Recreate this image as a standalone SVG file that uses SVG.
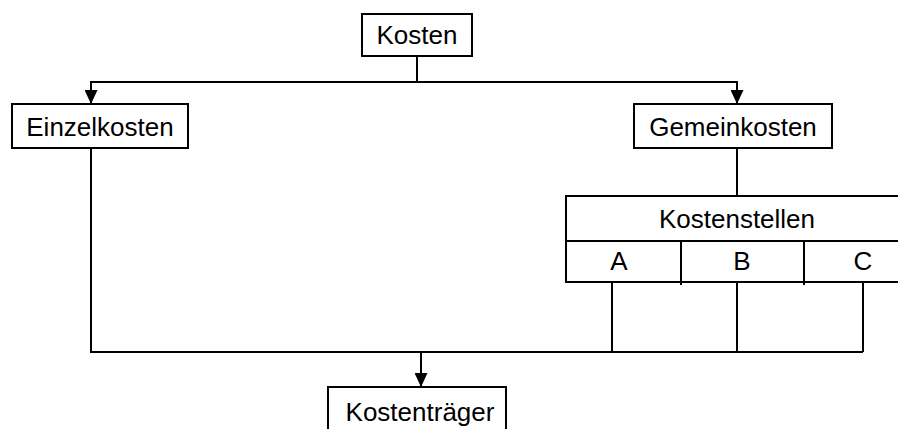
<svg xmlns="http://www.w3.org/2000/svg" width="898" height="429" viewBox="0 0 898 429">
<style>
.box{fill:#fff;stroke:#000;stroke-width:2}
.ln{fill:none;stroke:#000;stroke-width:2}
text{font-family:"Liberation Sans",Arial,sans-serif;font-size:26px;fill:#000;text-anchor:middle}
</style>
<defs>
<marker id="arr" viewBox="0 0 14 13" refX="14" refY="6.5" markerWidth="14" markerHeight="13" markerUnits="userSpaceOnUse" orient="auto">
<path d="M0,0 L14,6.5 L0,13 Z" fill="#000"/>
</marker>
</defs>
<rect width="898" height="429" fill="#fff"/>
<g id="connectors">
<path class="ln" d="M417,56 V82"/>
<path class="ln" d="M417,82 H91 V104" marker-end="url(#arr)"/>
<path class="ln" d="M417,82 H737 V104" marker-end="url(#arr)"/>
<path class="ln" d="M737,148 V196"/>
<path class="ln" d="M91,148 V352 H863"/>
<path class="ln" d="M612,282 V352"/>
<path class="ln" d="M737,282 V352"/>
<path class="ln" d="M863,282 V352"/>
<path class="ln" d="M421,352 V387" marker-end="url(#arr)"/>
</g>
<g id="kosten">
<rect class="box" x="362" y="14" width="110" height="42"/>
<text x="417" y="44">Kosten</text>
</g>
<g id="einzelkosten">
<rect class="box" x="12" y="104" width="176" height="44"/>
<text x="100" y="136">Einzelkosten</text>
</g>
<g id="gemeinkosten">
<rect class="box" x="634" y="104" width="198" height="44"/>
<text x="733" y="136">Gemeinkosten</text>
</g>
<g id="kostenstellen">
<rect class="box" x="566" y="196" width="340" height="86"/>
<path class="ln" d="M566,241 H906 M681,241 V285 M804,241 V285"/>
<text x="737" y="228">Kostenstellen</text>
<text x="619" y="270">A</text>
<text x="742" y="270">B</text>
<text x="863" y="270">C</text>
</g>
<g id="kostentraeger">
<rect class="box" x="328" y="387" width="178" height="60"/>
<text x="420" y="421">Kostenträger</text>
</g>
</svg>
